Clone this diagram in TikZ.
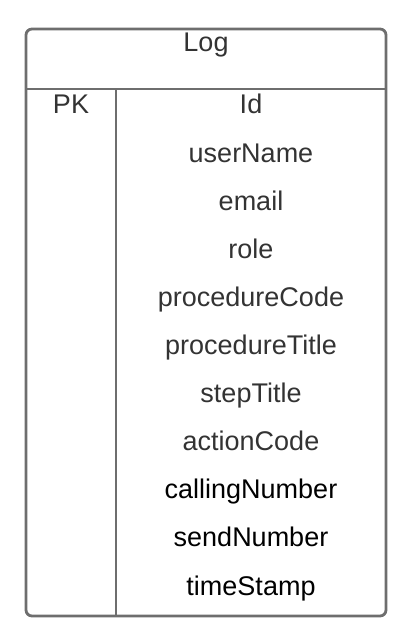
\documentclass[tikz,border=0pt]{standalone}
\usepackage{fontspec}
\setmainfont{Liberation Sans}
\usepackage{tikz}
\definecolor{rim}{HTML}{6E6E6E}
\definecolor{ink}{HTML}{333333}
\tikzset{
  field/.style={anchor=base, inner sep=0pt, text=ink, font=\fontsize{27}{32}\selectfont},
  blackfield/.style={field, text=black}
}

\begin{document}
\begin{tikzpicture}[x=1pt,y=-1pt]
 \useasboundingbox (0,0) rectangle (408,644);
 \draw[rim, line width=2.8pt, rounded corners=6pt] (26,29) rectangle (386,616);
 \coordinate (headL) at (26,89);
 \coordinate (headR) at (386,89);
 \coordinate (divT) at (116,89);
 \coordinate (divB) at (116,616);
 \draw[rim, line width=2.8pt] (headL) -- (headR);
 \draw[rim, line width=2.8pt] (divT) -- (divB);

 \draw (206,52) node[field] (log) {Log};
 \draw (71,114) node[field] (pk) {PK};
 \draw (251,114) node[field] (id) {Id};
 \draw (251,162.1) node[field] (userName) {userName};
 \draw (251,210.2) node[field] (email) {email};
 \draw (251,258.3) node[field] (role) {role};
 \draw (251,306.4) node[field] (procedureCode) {procedureCode};
 \draw (251,354.5) node[field] (procedureTitle) {procedureTitle};
 \draw (251,402.6) node[field] (stepTitle) {stepTitle};
 \draw (251,450.7) node[field] (actionCode) {actionCode};
 \draw (251,498.8) node[blackfield] (callingNumber) {callingNumber};
 \draw (251,546.9) node[blackfield] (sendNumber) {sendNumber};
 \draw (251,595) node[blackfield] (timeStamp) {timeStamp};
\end{tikzpicture}
\end{document}
